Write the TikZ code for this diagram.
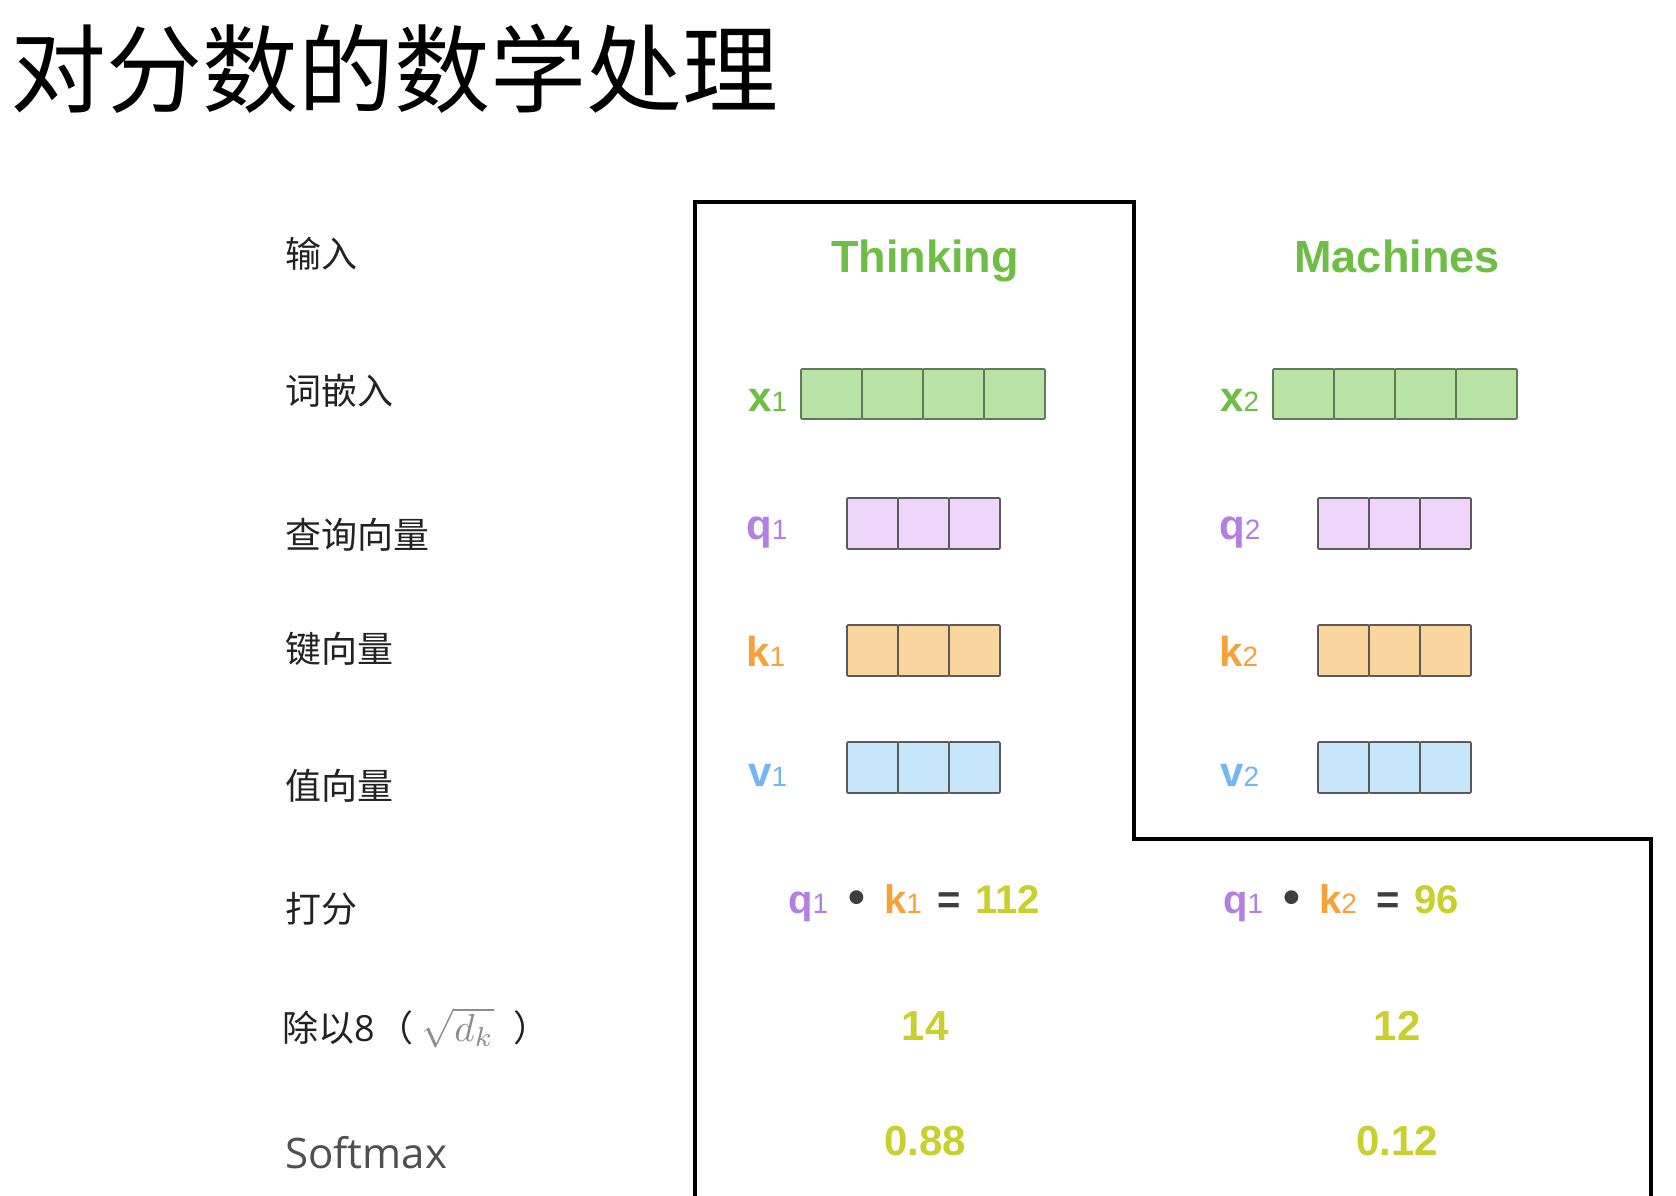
\documentclass[tikz,border=0pt]{standalone}
\usepackage{graphicx}
\usepackage{fontspec}
\setmainfont{Liberation Sans}
\newfontfamily\cjk{Noto Sans CJK SC}
\newfontfamily\osans{Open Sans}
\definecolor{tgreen}{HTML}{6EBE45}
\definecolor{gfill}{HTML}{B9E3A6}
\definecolor{gborder}{HTML}{5E7B57}
\definecolor{tpurple}{HTML}{B37FE3}
\definecolor{pfill}{HTML}{EED6FB}
\definecolor{torange}{HTML}{F6A23A}
\definecolor{ofill}{HTML}{FBD59E}
\definecolor{tblue}{HTML}{72B6F2}
\definecolor{bfill}{HTML}{C6E6FB}
\definecolor{tyellow}{HTML}{C9CF2C}
\definecolor{cborder}{HTML}{5A5A5A}
\definecolor{darkop}{HTML}{3E3E3E}
\definecolor{labtext}{HTML}{222222}
\definecolor{softgray}{HTML}{505050}
\definecolor{mathgray}{HTML}{8C8C8C}
\newcommand\subd[1]{{\fontsize{28}{28}\selectfont\mdseries #1}}
\newcommand\cellrow[7]{%
  \foreach \i in {1,...,#4}{%
    \node[#7, minimum width=#5pt, minimum height=#6pt, anchor=north west]
      (#1-\i) at ({#2+(\i-1)*#5}, #3) {};}}
\tikzset{
  cellbase/.style={draw=cborder, line width=1.6pt, inner sep=0pt, outer sep=0pt, rounded corners=1pt},
  gcell/.style={cellbase, fill=gfill, draw=gborder},
  pcell/.style={cellbase, fill=pfill},
  ocell/.style={cellbase, fill=ofill},
  bcell/.style={cellbase, fill=bfill},
  rowlab/.style={inner sep=0pt, anchor=base west, text=labtext, font=\cjk\fontsize{36}{40}\selectfont},
  veclab/.style={inner sep=0pt, anchor=base west, font=\bfseries\fontsize{42}{48}\selectfont},
  word/.style={inner sep=0pt, anchor=base, text=tgreen, font=\bfseries\fontsize{45}{50}\selectfont},
  num/.style={inner sep=0pt, anchor=base, text=tyellow, font=\bfseries\fontsize{42}{48}\selectfont},
  score/.style={inner sep=0pt, anchor=base west, font=\bfseries\fontsize{40}{46}\selectfont},
  frame/.style={draw=black, line width=3.5pt}
}
\begin{document}
\begin{tikzpicture}[x=1pt,y=-1pt]
\useasboundingbox (0,0) rectangle (1676,1196);
\fill[white] (0,0) rectangle (1676,1196);

% title
\node[inner sep=0pt, anchor=base west, font=\cjk\fontsize{96}{100}\selectfont] (title) at (10,106) {对分数的数学处理};

% row labels
\node[rowlab] (lin)  at (285,267) {输入};
\node[rowlab] (lemb) at (285,404) {词嵌入};
\node[rowlab] (lq)   at (285,548) {查询向量};
\node[rowlab] (lk)   at (285,662) {键向量};
\node[rowlab] (lv)   at (285,799) {值向量};
\node[rowlab] (lsc)  at (285,922) {打分};
\node[rowlab] (ldiv) at (282,1041) {除以{\osans 8}\hspace{3pt}（\hspace{8pt}{\color{mathgray}\fontsize{10}{12}\selectfont\scalebox{3.9}{$\sqrt{d_k}$}}\hspace{20pt}）};
\node[inner sep=0pt, anchor=base west, text=softgray, font=\osans\fontsize{42}{46}\selectfont] (lsm) at (285,1168) {Softmax};

% frame
\draw[frame] (695,1198) -- (695,202) -- (1134,202) -- (1134,839) -- (1651,839) -- (1651,1198);

% words
\node[word] (w1) at (925,272) {Thinking};
\node[word] (w2) at (1397,272) {Machines};

% vector labels
\node[veclab, text=tgreen]  (lx1) at (748,411) {x\subd{1}};
\node[veclab, text=tgreen]  (lx2) at (1220,411) {x\subd{2}};
\node[veclab, text=tpurple] (lq1) at (746,539) {q\subd{1}};
\node[veclab, text=tpurple] (lq2) at (1219,539) {q\subd{2}};
\node[veclab, text=torange] (lk1) at (746,666) {k\subd{1}};
\node[veclab, text=torange] (lk2) at (1219,666) {k\subd{2}};
\node[veclab, text=tblue]   (lv1) at (748,786) {v\subd{1}};
\node[veclab, text=tblue]   (lv2) at (1220,786) {v\subd{2}};

% vectors
\cellrow{x1}{801}{369}{4}{61}{50}{gcell}
\cellrow{x2}{1273}{369}{4}{61}{50}{gcell}
\cellrow{q1}{847}{498}{3}{51}{51}{pcell}
\cellrow{q2}{1318}{498}{3}{51}{51}{pcell}
\cellrow{k1}{847}{625}{3}{51}{51}{ocell}
\cellrow{k2}{1318}{625}{3}{51}{51}{ocell}
\cellrow{v1}{847}{742}{3}{51}{51}{bcell}
\cellrow{v2}{1318}{742}{3}{51}{51}{bcell}

% scores
\node[score] (s1) at (788,913) {{\color{tpurple}q\subd{1}}\hspace{20pt}{\color{darkop}\fontsize{48}{48}\selectfont\textbullet}\hspace{19pt}{\color{torange}k\subd{1}}\hspace{16pt}{\color{darkop}=}\hspace{14pt}{\color{tyellow}112}};
\node[score] (s2) at (1223,913) {{\color{tpurple}q\subd{1}}\hspace{20pt}{\color{darkop}\fontsize{48}{48}\selectfont\textbullet}\hspace{19pt}{\color{torange}k\subd{2}}\hspace{20pt}{\color{darkop}=}\hspace{14pt}{\color{tyellow}96}};

% scaled
\node[num] (d1) at (925,1040) {14};
\node[num] (d2) at (1397,1040) {12};
\node[num] (p1) at (925,1155) {0.88};
\node[num] (p2) at (1397,1155) {0.12};
\end{tikzpicture}
\end{document}
